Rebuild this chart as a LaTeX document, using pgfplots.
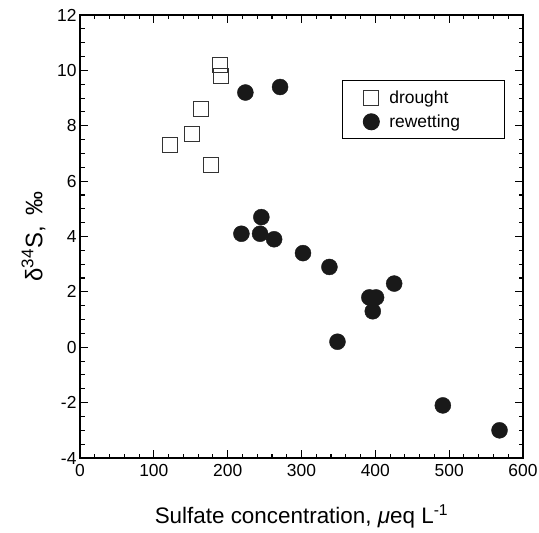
\documentclass[border=0pt]{standalone}
\usepackage{fontspec}
\setmainfont{Liberation Sans}
\usepackage{pgfplots}
\pgfplotsset{compat=1.18}
\begin{document}
\begin{tikzpicture}
\begin{axis}[
 scale only axis, width=443bp, height=443bp,
 xmin=0, xmax=600, ymin=-4, ymax=12,
 xtick={0,100,...,600}, ytick={-4,-2,...,12},
 minor x tick num=4, minor y tick num=3,
 tick align=inside, tick pos=both,
 major tick length=8bp, minor tick length=4.5bp,
 axis line style={line width=1.3bp},
 every tick/.style={black, line width=1.1bp},
 tick label style={font=\fontsize{17.5}{20}\selectfont},
 xticklabel style={yshift=-3bp},
 /pgf/number format/assume math mode=true,
 xlabel={Sulfate concentration, \textit{μ}eq L\textsuperscript{-1}},
 ylabel={δ\textsuperscript{\fontsize{17}{20}\selectfont 34}S,\, ‰},
 label style={font=\fontsize{22.5}{26}\selectfont},
 xlabel style={at={(axis description cs:0.5,-0.147)}, anchor=base},
 ylabel style={at={(axis description cs:-0.105,0.5)}, anchor=center, font=\fontsize{24}{28}\selectfont},
 legend cell align=left,
 legend style={at={(axis description cs:0.591,0.853)}, anchor=north west,
   draw=black, line width=1bp, font=\fontsize{17.5}{20}\selectfont,
   inner xsep=21bp, inner ysep=8bp, row sep=6bp},
]
\addplot[only marks, mark=square, mark size=7.5bp, mark options={draw=black!80, fill=white, line width=1bp}] coordinates {
 (122,7.3) (152,7.7) (163.5,8.6) (178,6.6) (189.7,10.2) (190.6,9.8)
};
\addlegendentry{\hspace{8bp}\makebox[92bp][l]{drought}}
\addplot[only marks, mark=*, mark size=8bp, mark options={draw=black!90, fill=black!90}] coordinates {
 (224,9.2) (271,9.4) (245.6,4.7) (218.6,4.1) (243.9,4.1) (262.9,3.9)
 (302,3.4) (337.8,2.9) (425.5,2.3) (391.9,1.8) (401,1.8) (396.5,1.3)
 (348.7,0.2) (491.4,-2.1) (568.2,-3.0)
};
\addlegendentry{\hspace{8bp}\makebox[92bp][l]{rewetting}}
\end{axis}
\pgfresetboundingbox
\path ([shift={(-80bp,-74bp)}]current axis.south west) rectangle ([shift={(16bp,15bp)}]current axis.north east);
\end{tikzpicture}
\end{document}
